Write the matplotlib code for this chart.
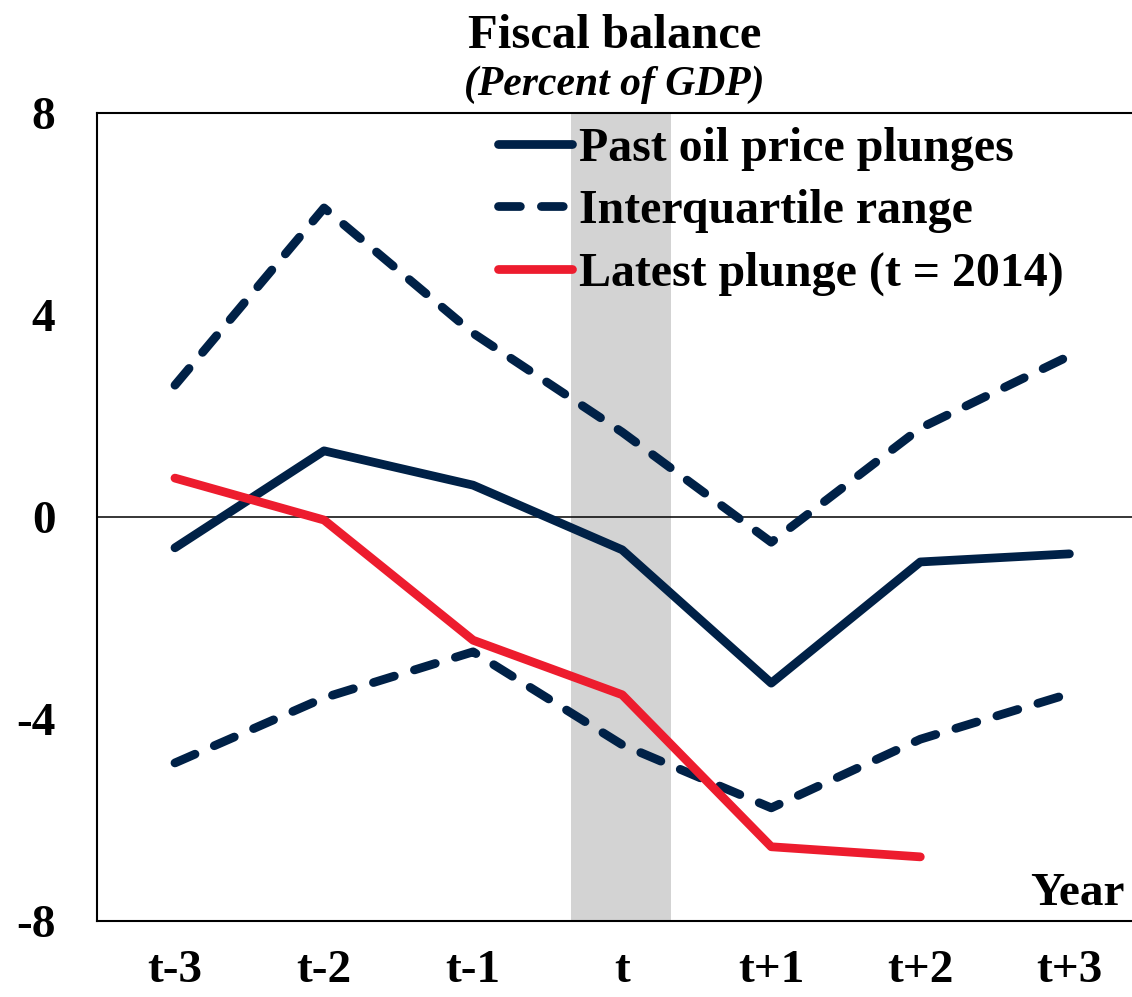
import matplotlib.pyplot as plt

plt.rcParams['font.family'] = 'Liberation Serif'
plt.rcParams['font.weight'] = 'bold'

# data
years = ["t-3", "t-2", "t-1", "t", "t+1", "t+2", "t+3"]
past = [-0.61, 1.31, 0.63, -0.65, -3.29, -0.89, -0.73]
iqr_hi = [2.61, 6.12, 3.64, 1.68, -0.50, 1.76, 3.19]
iqr_lo = [-4.87, -3.58, -2.67, -4.51, -5.76, -4.40, -3.50]
latest = [0.77, -0.06, -2.44, -3.52, -6.53, -6.73]

navy = "#002147"
red = "#ED1C2E"

fig = plt.figure(figsize=(11.32, 9.97), dpi=100)
ax = fig.add_axes([97/1132, 76/997, 1 - 97/1132, 808/997])

x = list(range(len(years)))
ax.axvspan(2.66, 3.33, color="#D3D3D3", zorder=0, lw=0)
ax.axhline(0, color="black", lw=1.1, zorder=1)

lw = 6.3
dash = (2.5, 2.4)
ax.plot(x, past, color=navy, lw=lw, solid_capstyle="round", label="Past oil price plunges", zorder=3)
ax.plot(x, iqr_hi, color=navy, lw=lw, dashes=dash, dash_capstyle="round",
        label="Interquartile range", zorder=3)
ax.plot(x, iqr_lo, color=navy, lw=lw, dashes=dash, dash_capstyle="round", zorder=3)
ax.plot(x[:len(latest)], latest, color=red, lw=lw, solid_capstyle="round",
        label="Latest plunge (t = 2014)", zorder=4)

ax.set_xlim(-0.523, 6.42)
ax.set_ylim(-8, 8)
ax.set_yticks([-8, -4, 0, 4, 8])
ax.set_yticklabels(["-8", "-4", "0", "4", "8"])
ax.set_xticks(x)
ax.set_xticklabels(years)
ax.tick_params(axis="y", length=0, pad=30, labelsize=34)
ax.tick_params(axis="x", length=0, pad=21, labelsize=34)

ax.spines["right"].set_visible(False)
for s in ["left", "top", "bottom"]:
    ax.spines[s].set_linewidth(1.5)

ax.text(0.993, 0.02, "Year", transform=ax.transAxes, ha="right", va="baseline",
        fontsize=34, fontweight="bold")

fig.text(0.5426, 1 - 48/997, "Fiscal balance", ha="center", va="baseline",
         fontsize=35, fontweight="bold")
fig.text(0.5426, 1 - 95/997, "(Percent of GDP)", ha="center", va="baseline",
         fontsize=30, fontweight="bold", style="italic")

leg = ax.legend(loc="upper left", bbox_to_anchor=(498/1132, 1 - 127/997),
                bbox_transform=fig.transFigure, frameon=False, fontsize=34.5,
                handlelength=1.55, handletextpad=0.15, labelspacing=0.38,
                borderpad=0, borderaxespad=0)
for t in leg.get_texts():
    t.set_fontweight("bold")

fig.savefig("out.png", dpi=100)
